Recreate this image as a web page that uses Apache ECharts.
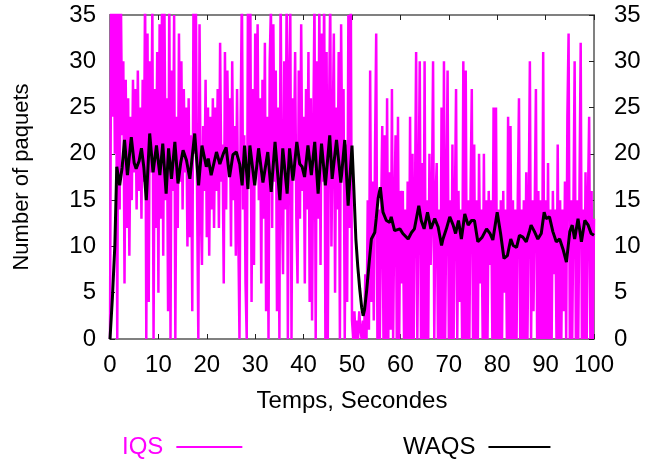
<!DOCTYPE html>
<html>
<head>
<meta charset="utf-8">
<script src="https://cdn.jsdelivr.net/npm/echarts@6/dist/echarts.min.js"></script>
<style>
  html, body { margin: 0; padding: 0; background: #fff; }
  #chart { width: 655px; height: 465px; }
</style>
</head>
<body>
<div id="chart"></div>
<script>
// Axis ranges and tick labels
const xTicks = [0, 10, 20, 30, 40, 50, 60, 70, 80, 90, 100];
const yTicks = [0, 5, 10, 15, 20, 25, 30, 35];

// IQS queue length, one sample every 0.25 s from t = 0 to t = 100
const iqsStep = 0.25;
const iqsValues = [
  // 0 - 5 s
  0, 38, 24, 40, 20, 36, 0, 38, 14, 37, 22, 30, 6, 28, 12, 26, 9, 24, 15, 28,
  // 5 - 10 s
  18, 27, 14, 29, 16, 25, 13, 28, 17, 38, 0, 33, 4, 30, 18, 36, 0, 27, 12, 31,
  // 10 - 15 s
  5, 34, 13, 37, 9, 36, 15, 26, 3, 38, 0, 29, 16, 35, 0, 24, 12, 33, 17, 30,
  // 15 - 20 s
  14, 27, 18, 25, 10, 26, 11, 22, 3, 37, 20, 36, 15, 0, 34, 14, 8, 23, 16, 28,
  // 20 - 25 s
  11, 25, 9, 24, 14, 26, 12, 25, 16, 27, 12, 32, 17, 21, 6, 31, 14, 29, 19, 26,
  // 25 - 30 s
  10, 30, 15, 23, 9, 27, 12, 0, 24, 38, 14, 22, 6, 0, 37, 18, 36, 4, 27, 8,
  // 30 - 35 s
  33, 19, 34, 15, 26, 6, 28, 13, 32, 3, 24, 0, 30, 36, 12, 34, 17, 29, 3, 25,
  // 35 - 40 s
  0, 38, 16, 7, 30, 14, 37, 0, 28, 36, 0, 26, 19, 31, 13, 6, 29, 13, 34, 16,
  // 40 - 45 s
  24, 6, 27, 14, 31, 4, 26, 2, 22, 37, 0, 30, 13, 36, 8, 33, 17, 38, 0, 31,
  // 45 - 50 s
  0, 24, 37, 10, 22, 33, 5, 25, 14, 31, 0, 34, 18, 27, 0, 21, 4, 35, 12, 38,
  // 50 - 55 s
  2, 0, 3, 0, 2, 0, 3, 1, 0, 2, 0, 7, 0, 15, 1, 29, 4, 17, 2, 20,
  // 55 - 60 s
  33, 0, 14, 0, 13, 23, 0, 22, 0, 26, 0, 18, 1, 27, 0, 14, 22, 0, 24, 0,
  // 60 - 65 s
  16, 6, 16, 0, 14, 0, 17, 0, 24, 0, 20, 0, 14, 31, 0, 15, 30, 0, 19, 0,
  // 65 - 70 s
  30, 0, 15, 0, 20, 8, 14, 30, 0, 15, 19, 0, 14, 0, 25, 0, 30, 0, 15, 29,
  // 70 - 75 s
  0, 15, 0, 21, 0, 14, 27, 0, 16, 4, 14, 0, 30, 0, 29, 0, 15, 0, 16, 27,
  // 75 - 80 s
  0, 21, 0, 15, 0, 20, 6, 14, 0, 20, 0, 15, 0, 16, 8, 15, 0, 25, 0, 25,
  // 80 - 85 s
  0, 14, 0, 15, 0, 16, 5, 14, 0, 24, 0, 23, 0, 15, 0, 14, 0, 15, 26, 0,
  // 85 - 90 s
  14, 0, 15, 0, 18, 0, 14, 30, 0, 15, 3, 14, 27, 0, 16, 0, 15, 0, 31, 0,
  // 90 - 95 s
  15, 0, 19, 0, 14, 0, 16, 7, 14, 0, 21, 0, 15, 0, 14, 3, 17, 0, 24, 33,
  // 95 - 100 s
  0, 15, 0, 14, 30, 0, 15, 0, 16, 32, 0, 14, 0, 18, 0, 15, 24, 0, 16, 0,
  13
];

// WAQS averaged queue length: sample times (s) and values
const waqsTime = [
  0, 0.5, 1.0, 1.4, 2.0, 2.5, 3.0, 3.6, 4.4, 5.0, 5.4, 6.0, 6.5, 7.0, 7.5, 8.2, 8.9, 9.6, 10.3, 10.9,
  11.6, 12.1, 12.7, 13.4, 14.05, 14.6, 15.1, 15.8, 16.5, 17.5, 18.3, 19.0, 19.9, 20.3, 20.9, 22.0, 22.7, 23.4, 24.0, 24.7,
  25.4, 26.1, 26.8, 27.3, 27.8, 28.5, 28.9, 29.9, 30.7, 31.6, 32.6, 33.3, 34.1, 35.1, 35.7, 36.6, 37.1, 37.8, 38.6, 39.2,
  39.7, 40.2, 40.9, 41.6, 42.3, 43.0, 43.7, 44.5, 45.4, 45.9, 46.8, 47.7, 48.5, 49.2, 50.0, 50.4, 50.8, 51.2, 51.6, 52.0,
  52.3, 52.6, 53.0, 53.5, 54.0, 54.4, 54.7, 55.0, 55.4, 55.85, 56.4, 57.1, 57.8, 58.1, 58.8, 59.9, 60.5, 61.6, 62.3, 62.9,
  63.8, 64.3, 64.9, 65.6, 66.3, 67.1, 67.8, 68.5, 68.8, 69.5, 70.2, 70.9, 71.4, 72.0, 72.6, 73.3, 74.0, 74.7, 75.3, 76.0,
  76.9, 77.8, 78.5, 79.1, 80.0, 80.7, 81.4, 82.1, 82.8, 83.3, 84.0, 84.6, 85.3, 86.0, 86.7, 87.0, 87.7, 88.4, 89.1, 89.7,
  90.1, 90.8, 91.5, 92.2, 92.9, 93.6, 94.3, 95.0, 95.5, 96.0, 96.7, 97.4, 98.1, 98.8, 99.4, 100
];
const waqsValue = [
  0, 4.5, 10.1, 18.6, 16.6, 18.5, 21.5, 17.7, 21.8, 19.0, 18.4, 19.2, 20.6, 18.5, 15.0, 22.2, 18.0, 20.9, 17.7, 21.1,
  15.7, 20.6, 17.3, 21.3, 16.8, 19.0, 20.4, 19.3, 17.3, 22.2, 16.6, 20.9, 18.6, 19.5, 17.7, 20.2, 18.9, 20.0, 20.7, 17.5,
  19.9, 20.2, 18.9, 16.6, 20.9, 16.2, 20.9, 16.6, 20.6, 16.9, 20.2, 15.9, 21.3, 15.0, 20.6, 15.7, 20.6, 17.1, 21.3, 18.9,
  18.6, 17.5, 20.9, 17.7, 21.3, 15.7, 21.1, 16.6, 22.0, 17.3, 21.5, 16.9, 21.5, 14.4, 20.9, 16.0, 10.8, 7.8, 5.4, 3.4,
  2.5, 3.2, 5.1, 8.0, 10.8, 11.0, 11.5, 13.0, 15.2, 16.4, 13.7, 12.8, 12.6, 13.2, 11.7, 11.9, 11.4, 10.8, 11.5, 11.9,
  14.4, 12.8, 11.9, 13.7, 11.9, 13.0, 12.1, 10.1, 10.8, 11.9, 13.2, 12.3, 11.4, 12.8, 10.8, 13.5, 12.3, 12.8, 12.8, 10.5,
  11.0, 11.9, 11.4, 10.7, 13.7, 11.4, 8.7, 9.0, 10.8, 10.1, 9.9, 11.2, 11.0, 10.5, 11.7, 12.3, 11.6, 10.8, 11.4, 13.7,
  13.0, 13.2, 11.6, 10.5, 10.8, 9.7, 8.3, 11.6, 12.3, 10.8, 13.0, 10.5, 12.8, 12.3, 11.4, 11.2
];

const iqsData = iqsValues.map((v, i) => [i * iqsStep, v]);
const waqsData = waqsTime.map((t, i) => [t, waqsValue[i]]);

const FONT = "'Liberation Sans', Arial, Helvetica, sans-serif";
const FRAME = '#808080';
const labelStyle = { color: '#000', fontSize: 24, fontFamily: FONT };

const chart = echarts.init(document.getElementById('chart'), null, { renderer: 'canvas' });

function xAxisBase(pos, showLabels) {
  return {
    type: 'value', position: pos, min: xTicks[0], max: xTicks[xTicks.length - 1],
    interval: xTicks[1] - xTicks[0],
    axisLine: { show: true, onZero: false, lineStyle: { color: FRAME, width: 2 } },
    axisTick: { show: true, inside: true, length: 5, lineStyle: { color: '#222', width: 1 } },
    axisLabel: Object.assign({ show: showLabels, margin: 14 }, labelStyle),
    splitLine: { show: false }
  };
}
function yAxisBase(pos, margin) {
  return {
    type: 'value', position: pos, min: yTicks[0], max: yTicks[yTicks.length - 1],
    interval: yTicks[1] - yTicks[0],
    axisLine: { show: true, onZero: false, lineStyle: { color: FRAME, width: 2 } },
    axisTick: { show: true, inside: true, length: 5, lineStyle: { color: '#222', width: 1 } },
    axisLabel: Object.assign({ show: true, margin: margin }, labelStyle),
    splitLine: { show: false }
  };
}

const xBottom = Object.assign(xAxisBase('bottom', true), {
  name: 'Temps, Secondes', nameLocation: 'middle', nameGap: 50,
  nameTextStyle: { color: '#000', fontSize: 24, fontFamily: FONT }
});
const xTop = xAxisBase('top', false);
const yLeft = Object.assign(yAxisBase('left', 14), {
  name: 'Number of paquets', nameLocation: 'middle', nameGap: 77, nameRotate: 90,
  nameTextStyle: { color: '#000', fontSize: 22, fontFamily: FONT }
});
const yRight = yAxisBase('right', 20);

chart.setOption({
  animation: false,
  backgroundColor: '#fff',
  grid: { left: 110, right: 61, top: 15, bottom: 126, containLabel: false },
  xAxis: [xBottom, xTop],
  yAxis: [yLeft, yRight],
  legend: [
    {
      data: [{ name: 'IQS', textStyle: { color: '#ff00ff' } }],
      left: 117, top: 430, align: 'right', icon: 'rect', itemWidth: 66, itemHeight: 2,
      textStyle: { fontSize: 24, fontFamily: FONT, padding: [0, 8, 0, 0] }
    },
    {
      data: [{ name: 'WAQS', textStyle: { color: '#000' } }],
      left: 398, top: 430, align: 'right', icon: 'rect', itemWidth: 62, itemHeight: 2,
      textStyle: { fontSize: 24, fontFamily: FONT, padding: [0, 8, 0, 0] }
    }
  ],
  series: [
    {
      name: 'IQS', type: 'line', xAxisIndex: 0, yAxisIndex: 0,
      data: iqsData, showSymbol: false, symbol: 'none',
      lineStyle: { color: '#ff00ff', width: 2.5 }, itemStyle: { color: '#ff00ff' },
      clip: true, z: 2
    },
    {
      name: 'WAQS', type: 'line', xAxisIndex: 0, yAxisIndex: 0,
      data: waqsData, showSymbol: false, symbol: 'none',
      lineStyle: { color: '#000', width: 3 }, itemStyle: { color: '#000' },
      clip: true, z: 3
    }
  ]
});
</script>
</body>
</html>
